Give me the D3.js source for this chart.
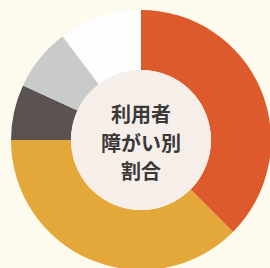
<!DOCTYPE html>
<html>
<head>
<meta charset="utf-8">
<script src="https://cdn.jsdelivr.net/npm/d3@7"></script>
<style>
  html, body { margin: 0; padding: 0; background: #fdfaee; }
  svg { display: block; }
</style>
</head>
<body>
<svg width="270" height="268"></svg>
<script>
var categories = ["身体障がい", "知的障がい", "精神障がい", "発達障がい", "その他"];
var shares = [37.5, 37.5, 6.9, 7.8, 10.3];
var colors = ["#dc5a2c", "#e3a73a", "#5b5352", "#c9cbca", "#fefefe"];
var centerLines = ["利用者", "障がい別", "割合"];

var svg = d3.select("svg"),
    cx = 141, cy = 140,
    outerR = 130, innerR = 70;

var g = svg.append("g").attr("transform", "translate(" + cx + "," + cy + ")");

var data = categories.map(function(c, i) { return {name: c, value: shares[i]}; });

var pie = d3.pie().sort(null).value(function(d) { return d.value; });
var arc = d3.arc().innerRadius(innerR).outerRadius(outerR);
var color = d3.scaleOrdinal().domain(categories).range(colors);

g.selectAll(".slice")
  .data(pie(data))
  .enter().append("path")
    .attr("class", "slice")
    .attr("d", arc)
    .attr("fill", function(d) { return color(d.data.name); });

// inner disc
g.append("circle")
    .attr("r", innerR)
    .attr("fill", "#f6efe9");

var y = d3.scalePoint().domain(centerLines).range([-25, 32]);

g.selectAll(".label")
  .data(centerLines)
  .enter().append("text")
    .attr("class", "label")
    .attr("x", 0)
    .attr("y", function(d) { return y(d); })
    .attr("dy", "0.35em")
    .attr("text-anchor", "middle")
    .attr("fill", "#3b3838")
    .style("font", "bold 20px 'Noto Sans CJK JP'")
    .text(function(d) { return d; });
</script>
</body>
</html>
